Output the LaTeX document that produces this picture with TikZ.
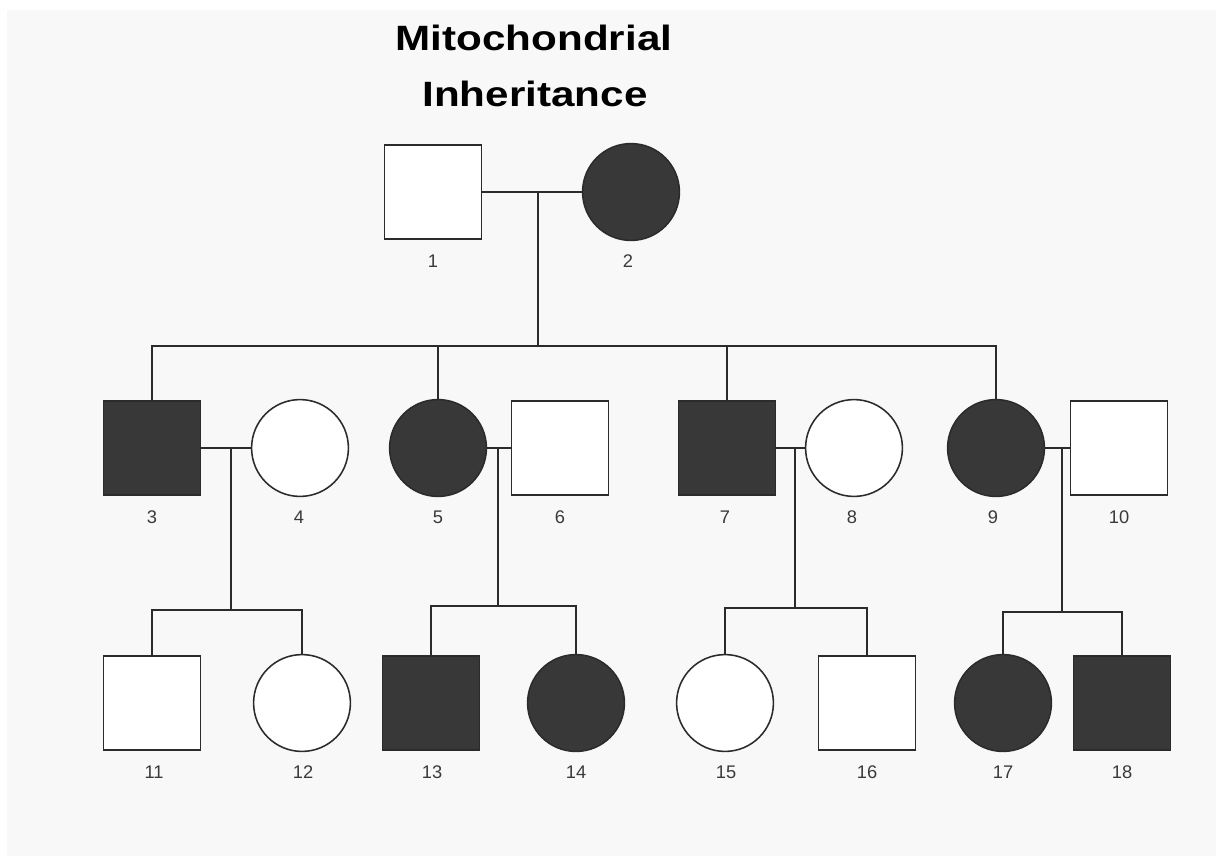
\documentclass[tikz,border=0pt]{standalone}
\usepackage{fontspec}
\setmainfont{Liberation Sans}
\usepackage{graphicx}
\usetikzlibrary{calc}

\definecolor{pedline}{HTML}{2B2B2B}
\definecolor{pedfill}{HTML}{383838}
\definecolor{pedtext}{HTML}{3A3A3A}
\definecolor{pedback}{HTML}{F8F8F8}

\begin{document}
\begin{tikzpicture}[x=0.025cm, y=-0.025cm,
  line width=1.1pt, draw=pedline,
  male/.style={draw=pedline, fill=white, rectangle, inner sep=0pt, outer sep=0pt,
    minimum width=2.43cm, minimum height=2.36cm},
  female/.style={draw=pedline, fill=white, circle, inner sep=0pt, outer sep=0pt,
    minimum size=2.42cm},
  affected/.style={fill=pedfill},
  idlabel/.style={anchor=base, text=pedtext, font=\fontsize{13}{15}\selectfont},
  titletext/.style={anchor=base, text=black, font=\fontsize{25}{30}\selectfont\bfseries}]

% Background and margins
\fill[white] (0,0) rectangle (1216,856);
\fill[pedback] (7,10) rectangle (1216,856);
\useasboundingbox (0,0) rectangle (1216,856);

% Title
\node[titletext] (title1) at (534,50) {\scalebox{1.2}[1]{Mitochondrial}};
\node[titletext] (title2) at (535,106) {\scalebox{1.2}[1]{Inheritance}};

% Generation I
\node[male] (p1) at (433,192) {};
\node[female, affected] (p2) at (631,192) {};

% Generation II
\node[male, affected] (p3) at (152,448) {};
\node[female] (p4) at (300,448) {};
\node[female, affected] (p5) at (438,448) {};
\node[male] (p6) at (560,448) {};
\node[male, affected] (p7) at (727,448) {};
\node[female] (p8) at (854,448) {};
\node[female, affected] (p9) at (996,448) {};
\node[male] (p10) at (1119,448) {};

% Generation III
\node[male] (p11) at (152,703) {};
\node[female] (p12) at (302,703) {};
\node[male, affected] (p13) at (431,703) {};
\node[female, affected] (p14) at (576,703) {};
\node[female] (p15) at (725,703) {};
\node[male] (p16) at (867,703) {};
\node[female, affected] (p17) at (1003,703) {};
\node[male, affected] (p18) at (1122,703) {};

% Numbers under the symbols
\node[idlabel] (n1) at ($(p1)+(0,75)$) {1};
\node[idlabel] (n2) at ($(p2)+(-3,75)$) {2};
\node[idlabel] (n3) at ($(p3)+(0,75)$) {3};
\node[idlabel] (n4) at ($(p4)+(-1,75)$) {4};
\node[idlabel] (n5) at ($(p5)+(0,75)$) {5};
\node[idlabel] (n6) at ($(p6)+(0,75)$) {6};
\node[idlabel] (n7) at ($(p7)+(-2,75)$) {7};
\node[idlabel] (n8) at ($(p8)+(-2,75)$) {8};
\node[idlabel] (n9) at ($(p9)+(-3,75)$) {9};
\node[idlabel] (n10) at ($(p10)+(0,75)$) {10};
\node[idlabel] (n11) at ($(p11)+(2,75)$) {11};
\node[idlabel] (n12) at ($(p12)+(1,75)$) {12};
\node[idlabel] (n13) at ($(p13)+(1,75)$) {13};
\node[idlabel] (n14) at ($(p14)+(0,75)$) {14};
\node[idlabel] (n15) at ($(p15)+(1,75)$) {15};
\node[idlabel] (n16) at ($(p16)+(0,75)$) {16};
\node[idlabel] (n17) at ($(p17)+(0,75)$) {17};
\node[idlabel] (n18) at ($(p18)+(0,75)$) {18};

% Points where the lines of descent start and split
\coordinate (m12) at (538,192);
\coordinate (s12) at (538,346);
\coordinate (m34) at (231,448);
\coordinate (s34) at (231,610);
\coordinate (m56) at (498,448);
\coordinate (s56) at (498,606);
\coordinate (m78) at (795,448);
\coordinate (s78) at (795,608);
\coordinate (m910) at (1062,448);
\coordinate (s910) at (1062,612);

% Mating lines
\draw (p1.east) -- (p2.west);
\draw (p3.east) -- (p4.west);
\draw (p5.east) -- (p6.west);
\draw (p7.east) -- (p8.west);
\draw (p9.east) -- (p10.west);

% Children of 1 and 2
\draw (m12) -- (s12);
\draw (p3.north) -- (p3.north |- s12) -- (p9.north |- s12) -- (p9.north);
\draw (p5.north) -- (p5.north |- s12);
\draw (p7.north) -- (p7.north |- s12);

% Children of 3 and 4
\draw (m34) -- (s34);
\draw (p11.north) -- (p11.north |- s34) -- (p12.north |- s34) -- (p12.north);

% Children of 5 and 6
\draw (m56) -- (s56);
\draw (p13.north) -- (p13.north |- s56) -- (p14.north |- s56) -- (p14.north);

% Children of 7 and 8
\draw (m78) -- (s78);
\draw (p15.north) -- (p15.north |- s78) -- (p16.north |- s78) -- (p16.north);

% Children of 9 and 10
\draw (m910) -- (s910);
\draw (p17.north) -- (p17.north |- s910) -- (p18.north |- s910) -- (p18.north);

\end{tikzpicture}
\end{document}
